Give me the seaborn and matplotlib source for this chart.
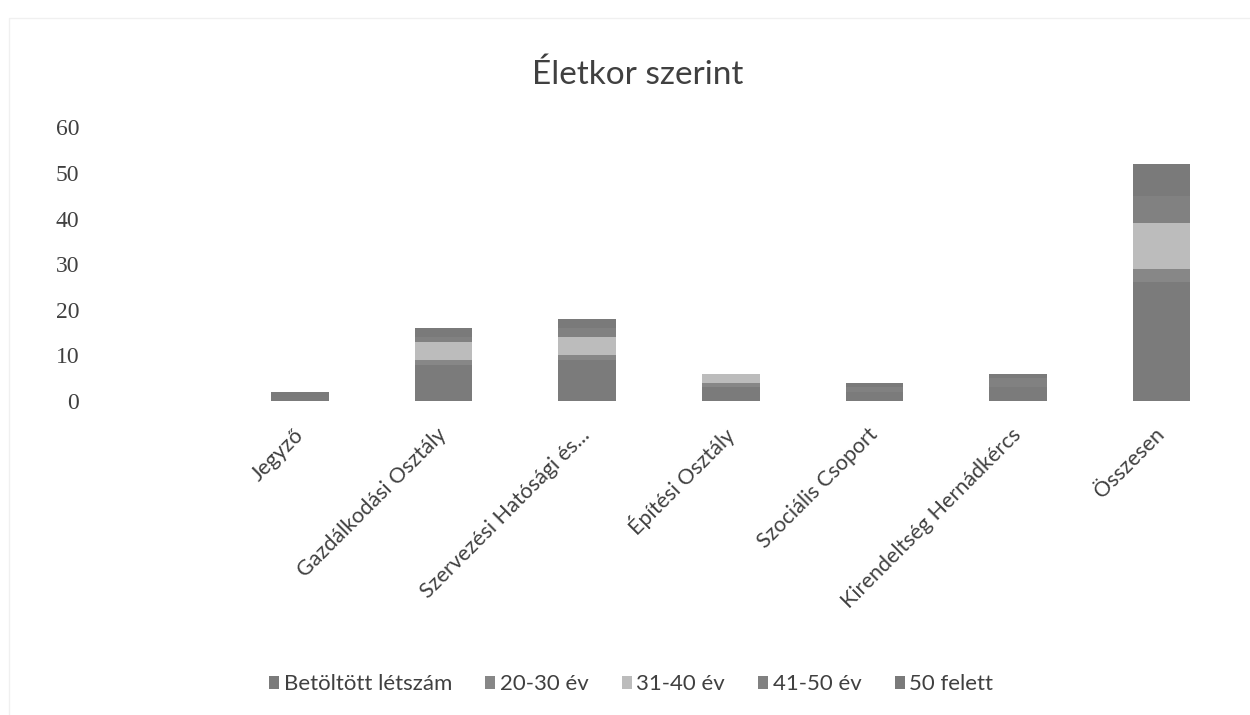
import matplotlib
matplotlib.use("Agg")
import matplotlib.pyplot as plt
from matplotlib.patches import Patch, Rectangle
import seaborn as sns
import pandas as pd
import numpy as np

categories = ["Jegyző", "Gazdálkodási Osztály", "Szervezési Hatósági és...",
              "Építési Osztály", "Szociális Csoport", "Kirendeltség Hernádkércs",
              "Összesen"]
betoltott = [1, 8, 9, 3, 2, 3, 26]
kor_20_30 = [0, 1, 1, 1, 0, 0, 3]
kor_31_40 = [0, 4, 4, 2, 0, 0, 10]
kor_41_50 = [0, 1, 2, 0, 1, 2, 6]
kor_50_felett = [1, 2, 2, 0, 1, 1, 7]

series_names = ["Betöltött létszám", "20-30 év", "31-40 év", "41-50 év", "50 felett"]
colors = ["#7b7b7b", "#878787", "#bcbcbc", "#818181", "#7a7a7a"]

sns.set_theme(style="white")
plt.rcParams["font.family"] = ["Lato", "DejaVu Sans"]

df = pd.DataFrame({"kategoria": categories,
                   series_names[0]: betoltott,
                   series_names[1]: kor_20_30,
                   series_names[2]: kor_31_40,
                   series_names[3]: kor_41_50,
                   series_names[4]: kor_50_felett})

# cumulative sums for stacking
cum = df[series_names].cumsum(axis=1)

fig = plt.figure(figsize=(12.5, 7.15), dpi=100)
ax = fig.add_axes([0.0677, 0.439, 0.919, 0.383])

# draw from the tallest (full stack) down so lower layers overlay
for name, col in reversed(list(zip(series_names, colors))):
    sns.barplot(x=df["kategoria"], y=cum[name], color=col, width=0.4,
                order=categories, saturation=1, ax=ax, linewidth=0)

ax.set_xlim(-1.5, 6.5)
ax.set_ylim(0, 60)
ax.set_yticks(np.arange(0, 61, 10))
ax.set_yticklabels([str(v) for v in range(0, 61, 10)],
                   family=["Liberation Serif"], fontsize=17, color="#404040")
ax.tick_params(axis="y", length=0, pad=4)
ax.tick_params(axis="x", length=0, pad=22)
ax.set_xticks(range(len(categories)))
ax.set_xticklabels(categories, rotation=45, ha="right", va="center",
                   rotation_mode="anchor", fontsize=15.5, color="#404040")
ax.set_xlabel("")
ax.set_ylabel("")
sns.despine(ax=ax, left=True, bottom=True)

fig.text(0.51, 0.895, "Életkor szerint", ha="center", va="center",
         fontsize=24, color="#404040")

handles = [Patch(facecolor=c, edgecolor="none", label=n) for n, c in zip(series_names, colors)]
fig.legend(handles=handles, loc="center", bbox_to_anchor=(0.505, 0.043), ncol=5,
           frameon=False, fontsize=16, handlelength=0.45, handleheight=0.5,
           handletextpad=0.2, columnspacing=1.5, labelcolor="#404040")

# faint chart border from the scan
fig.patches.append(Rectangle((0.007, -0.1), 1.2, 1.075, transform=fig.transFigure,
                             fill=False, edgecolor="#f0f0f0", linewidth=1))

fig.savefig("out.png", dpi=100)
